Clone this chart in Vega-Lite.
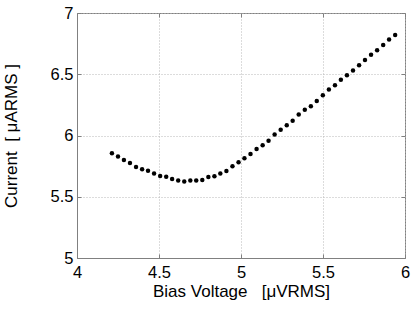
{
  "$schema": "https://vega.github.io/schema/vega-lite/v6.json",
  "autosize": "none",
  "width": 328,
  "height": 245,
  "padding": {"left": 77, "top": 13, "right": 10, "bottom": 51},
  "background": "white",
  "config": {
    "font": "Liberation Sans",
    "view": {"stroke": "#808080", "strokeWidth": 1},
    "axis": {
      "labelFont": "Liberation Sans",
      "titleFont": "Liberation Sans",
      "labelFontSize": 16.5,
      "titleFontSize": 17,
      "titleFontWeight": "normal",
      "labelColor": "black",
      "titleColor": "black",
      "domainColor": "#808080",
      "tickColor": "#808080",
      "tickWidth": 1,
      "gridColor": "#b8b8b8",
      "gridDash": [1, 2],
      "gridWidth": 1
    }
  },
  "data": {
    "values": [
      {"v": 4.213, "i": 5.855}, {"v": 4.250, "i": 5.828}, {"v": 4.286, "i": 5.800}, {"v": 4.323, "i": 5.776},
      {"v": 4.360, "i": 5.743}, {"v": 4.397, "i": 5.724}, {"v": 4.433, "i": 5.713}, {"v": 4.470, "i": 5.689},
      {"v": 4.507, "i": 5.670}, {"v": 4.544, "i": 5.664}, {"v": 4.580, "i": 5.645}, {"v": 4.617, "i": 5.632},
      {"v": 4.654, "i": 5.624}, {"v": 4.691, "i": 5.632}, {"v": 4.727, "i": 5.632}, {"v": 4.764, "i": 5.637},
      {"v": 4.801, "i": 5.661}, {"v": 4.838, "i": 5.667}, {"v": 4.874, "i": 5.689}, {"v": 4.911, "i": 5.710},
      {"v": 4.948, "i": 5.749}, {"v": 4.985, "i": 5.781}, {"v": 5.021, "i": 5.814}, {"v": 5.058, "i": 5.849},
      {"v": 5.095, "i": 5.890}, {"v": 5.132, "i": 5.920}, {"v": 5.168, "i": 5.958}, {"v": 5.205, "i": 6.008},
      {"v": 5.242, "i": 6.047}, {"v": 5.279, "i": 6.083}, {"v": 5.315, "i": 6.121}, {"v": 5.352, "i": 6.171},
      {"v": 5.389, "i": 6.211}, {"v": 5.426, "i": 6.238}, {"v": 5.462, "i": 6.282}, {"v": 5.499, "i": 6.328},
      {"v": 5.536, "i": 6.375}, {"v": 5.573, "i": 6.410}, {"v": 5.609, "i": 6.456}, {"v": 5.646, "i": 6.491},
      {"v": 5.683, "i": 6.530}, {"v": 5.720, "i": 6.573}, {"v": 5.756, "i": 6.616}, {"v": 5.793, "i": 6.660},
      {"v": 5.830, "i": 6.696}, {"v": 5.867, "i": 6.739}, {"v": 5.903, "i": 6.783}, {"v": 5.940, "i": 6.820}
    ]
  },
  "resolve": {"axis": {"x": "independent", "y": "independent"}},
  "layer": [
    {
      "mark": {"type": "point", "filled": true, "color": "black", "size": 20, "opacity": 0},
      "encoding": {
        "x": {
          "field": "v", "type": "quantitative",
          "scale": {"domain": [4, 6], "nice": false, "zero": false},
          "axis": {"values": [4, 4.5, 5, 5.5, 6], "format": "~g", "title": "Bias Voltage\u00a0\u00a0\u00a0[μVRMS]", "ticks": false, "labelPadding": 6, "titlePadding": 3, "labelFlush": false}
        },
        "y": {
          "field": "i", "type": "quantitative",
          "scale": {"domain": [5, 7], "nice": false, "zero": false},
          "axis": {"values": [5, 5.5, 6, 6.5, 7], "format": "~g", "title": "Current\u00a0\u00a0[\u00a0μARMS\u00a0]", "ticks": false, "labelPadding": 4, "titlePadding": 30, "labelFlush": false}
        }
      }
    },
    {
      "mark": {"type": "point", "filled": true, "color": "black", "size": 20, "opacity": 0},
      "encoding": {
        "x": {
          "field": "v", "type": "quantitative",
          "axis": {"orient": "bottom", "offset": -4, "tickSize": 4, "domain": false, "values": [4, 4.5, 5, 5.5, 6], "labels": false, "title": null, "grid": false}
        },
        "y": {
          "field": "i", "type": "quantitative",
          "axis": {"orient": "left", "offset": -4, "tickSize": 4, "domain": false, "values": [5, 5.5, 6, 6.5, 7], "labels": false, "title": null, "grid": false}
        }
      }
    },
    {
      "mark": {"type": "point", "filled": true, "color": "black", "size": 20, "opacity": 1},
      "encoding": {
        "x": {
          "field": "v", "type": "quantitative",
          "axis": {"orient": "top", "offset": -4, "tickSize": 4, "domain": false, "values": [4, 4.5, 5, 5.5, 6], "labels": false, "title": null, "grid": false}
        },
        "y": {
          "field": "i", "type": "quantitative",
          "axis": {"orient": "right", "offset": -4, "tickSize": 4, "domain": false, "values": [5, 5.5, 6, 6.5, 7], "labels": false, "title": null, "grid": false}
        }
      }
    }
  ]
}
